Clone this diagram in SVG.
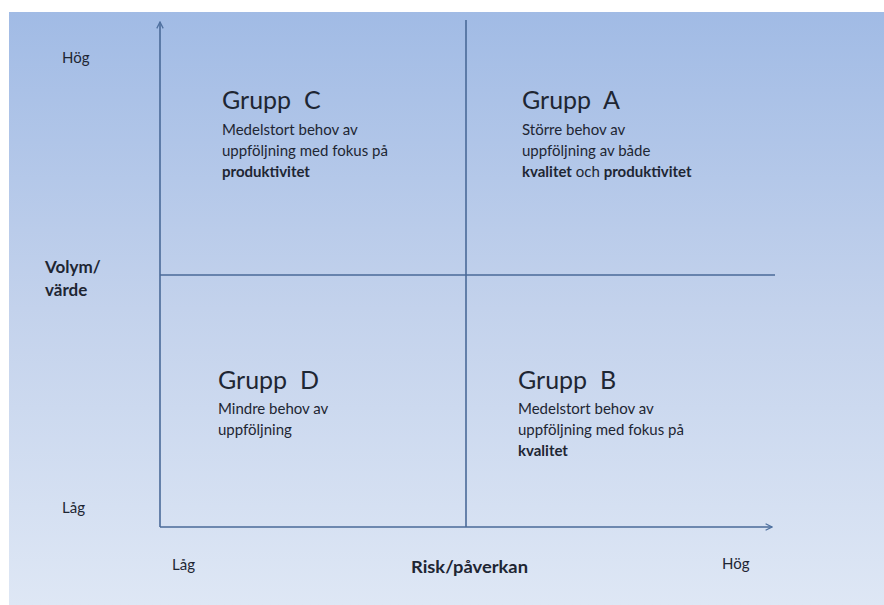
<svg xmlns="http://www.w3.org/2000/svg" width="884" height="605" viewBox="0 0 884 605">
<defs>
<linearGradient id="bg" x1="0" y1="0" x2="0" y2="1">
<stop offset="0" stop-color="#a1bbe5"/>
<stop offset="0.5" stop-color="#c3d2ec"/>
<stop offset="1" stop-color="#dee7f5"/>
</linearGradient>
<marker id="arr" viewBox="0 0 10 10" refX="9" refY="5" markerWidth="8" markerHeight="8" markerUnits="userSpaceOnUse" orient="auto">
<path d="M1,1 L9,5 L1,9" fill="none" stroke="#4f71a0" stroke-width="1.6"/>
</marker>
</defs>
<style>
.ax{stroke:#4a6a98;stroke-width:1.6;fill:none}
.t{font-family:Lato,"Liberation Sans",sans-serif;fill:#1e2633}
.h{font-size:25px;white-space:pre}
.b{font-size:15px}
.s{font-size:15px}
.ab{font-size:17px;font-weight:bold}
.bold{font-weight:bold}
</style>
<rect x="0" y="0" width="884" height="605" fill="#ffffff"/>
<rect x="9" y="12" width="875" height="593" fill="url(#bg)"/>
<g id="connectors">
<line class="ax" x1="160" y1="527" x2="160" y2="22" marker-end="url(#arr)"/>
<line class="ax" x1="160" y1="527" x2="772" y2="527" marker-end="url(#arr)"/>
<line class="ax" x1="466" y1="20" x2="466" y2="527"/>
<line class="ax" x1="160" y1="275" x2="775" y2="275"/>
</g>
<g id="axis-labels">
<text class="t s" x="62" y="63">Hög</text>
<text class="t ab" x="45" y="273">Volym/</text>
<text class="t ab" x="45" y="296">värde</text>
<text class="t s" x="62" y="513">Låg</text>
<text class="t s" x="172" y="570">Låg</text>
<text class="t ab" x="411" y="573" textLength="117" lengthAdjust="spacingAndGlyphs">Risk/påverkan</text>
<text class="t s" x="722" y="569">Hög</text>
</g>
<g id="grupp-c">
<text class="t h" x="222" y="109" xml:space="preserve">Grupp  C</text>
<text class="t b" x="222" y="135">Medelstort behov av</text>
<text class="t b" x="222" y="156">uppföljning med fokus på</text>
<text class="t b bold" x="222" y="177">produktivitet</text>
</g>
<g id="grupp-a">
<text class="t h" x="522" y="109" xml:space="preserve">Grupp  A</text>
<text class="t b" x="522" y="135">Större behov av</text>
<text class="t b" x="522" y="156">uppföljning av både</text>
<text class="t b" x="522" y="177"><tspan class="bold">kvalitet</tspan> och <tspan class="bold">produktivitet</tspan></text>
</g>
<g id="grupp-d">
<text class="t h" x="218" y="389" xml:space="preserve">Grupp  D</text>
<text class="t b" x="218" y="414">Mindre behov av</text>
<text class="t b" x="218" y="435">uppföljning</text>
</g>
<g id="grupp-b">
<text class="t h" x="518" y="389" xml:space="preserve">Grupp  B</text>
<text class="t b" x="518" y="414">Medelstort behov av</text>
<text class="t b" x="518" y="435">uppföljning med fokus på</text>
<text class="t b bold" x="518" y="456">kvalitet</text>
</g>
</svg>
